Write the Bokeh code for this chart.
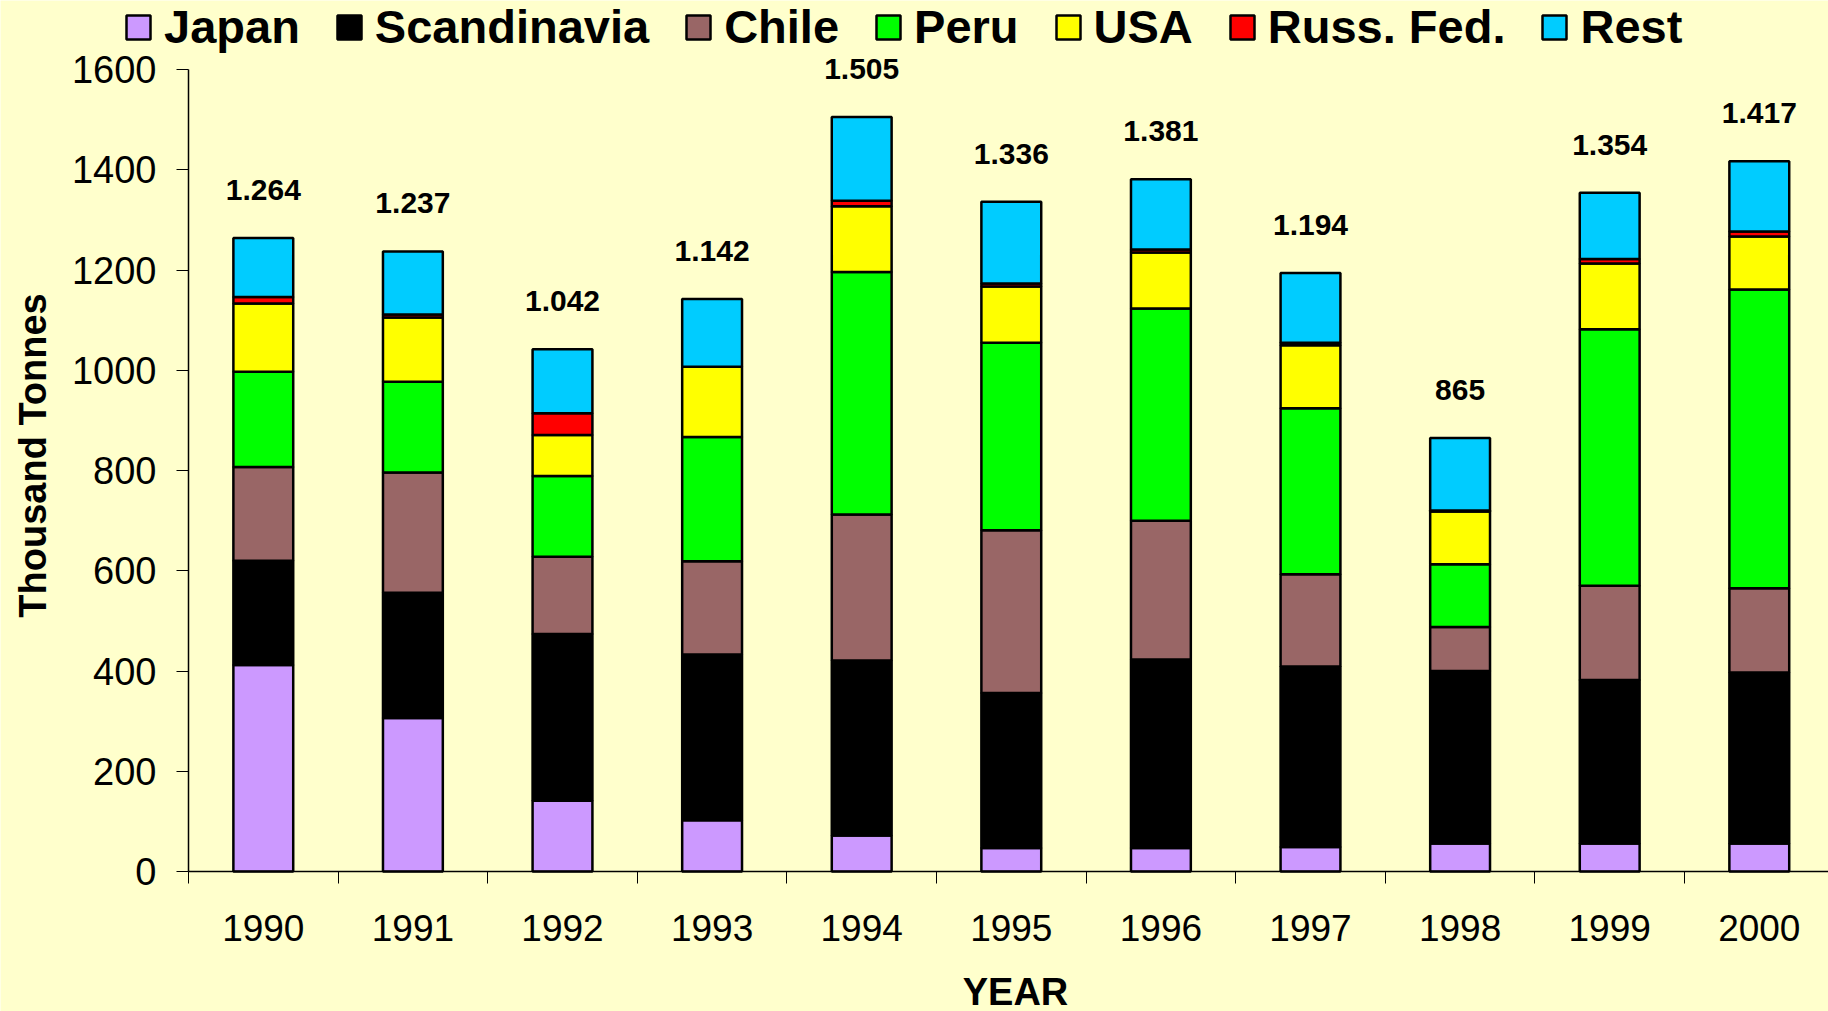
import math
from bokeh.plotting import figure
from bokeh.models import ColumnDataSource, Legend, LegendItem, FixedTicker, Range1d, Label
from bokeh.core.properties import value
from bokeh.embed import file_html
from bokeh.resources import INLINE

years = ["1990", "1991", "1992", "1993", "1994", "1995", "1996", "1997", "1998", "1999", "2000"]
japan = [412, 306, 141, 102, 72, 47, 47, 49, 56, 56, 56]
scandinavia = [208, 250, 333, 331, 349, 309, 376, 360, 344, 326, 341]
chile = [187, 240, 154, 186, 291, 325, 277, 184, 88, 188, 168]
peru = [190, 181, 161, 248, 484, 374, 423, 331, 125, 512, 596]
usa = [136, 128, 82, 140, 131, 112, 112, 126, 105, 131, 106]
russ = [13, 6, 43, 0, 11, 6, 6, 5, 2, 9, 10]
rest = [118, 126, 128, 135, 167, 163, 140, 139, 145, 132, 140]
total_labels = ["1.264", "1.237", "1.042", "1.142", "1.505", "1.336", "1.381", "1.194", "865", "1.354", "1.417"]

series = ["Japan", "Scandinavia", "Chile", "Peru", "USA", "Russ. Fed.", "Rest"]
colors = ["#CC99FF", "#000000", "#996666", "#00FF00", "#FFFF00", "#FF0000", "#00CCFF"]
keys = ["japan", "scand", "chile", "peru", "usa", "russ", "rest"]

idx = list(range(len(years)))
data = dict(x=idx, japan=japan, scand=scandinavia, chile=chile, peru=peru,
            usa=usa, russ=russ, rest=rest)
src = ColumnDataSource(data)
totals = [sum(v) for v in zip(japan, scandinavia, chile, peru, usa, russ, rest)]
lab_src = ColumnDataSource(dict(x=idx, y=totals, t=total_labels))

BG = "#FFFFCC"
FONT = "Liberation Sans"
W, H = 1828, 1011

# The frame covers the whole canvas; axes are placed with fixed_location / bounds
CAT_PX = 149.6             # pixels per category
AX_LEFT, Y0_PX, Y1600_PX = 188, 871, 69
PX_PER_UNIT = (Y0_PX - Y1600_PX) / 1600
x_start = -0.5 - AX_LEFT / CAT_PX
x_end = x_start + W / CAT_PX
y_start = -(H - Y0_PX) / PX_PER_UNIT
y_end = 1600 + Y1600_PX / PX_PER_UNIT


def px_x(px):
    return x_start + px / CAT_PX


def px_y(py):
    return 1600 + (Y1600_PX - py) / PX_PER_UNIT


p = figure(width=W, height=H,
           x_range=Range1d(x_start, x_end), y_range=Range1d(y_start, y_end),
           output_backend="svg", toolbar_location=None,
           min_border=0,
           background_fill_color=BG, border_fill_color=BG, outline_line_color=None)

renderers = p.vbar_stack(keys, x="x", width=0.4, source=src, fill_color=colors,
                         line_color="black", line_width=2.5)

p.text(x="x", y="y", text="t", source=lab_src, text_align="center",
       text_baseline="alphabetic", y_offset=-48,
       text_font=value(FONT), text_font_style="bold", text_font_size="30px",
       text_color="black")

legend = Legend(items=[LegendItem(label=s, renderers=[r]) for s, r in zip(series, renderers)],
                orientation="horizontal", location=(123, H - 54),
                glyph_width=30, glyph_height=30, label_standoff=11, spacing=34,
                padding=0, margin=0, background_fill_alpha=0, border_line_color=None,
                label_text_font=FONT, label_text_font_style="bold",
                label_text_font_size="47px", label_text_color="black")
p.add_layout(legend)

p.grid.visible = False

xa = p.xaxis[0]
xa.fixed_location = 0
xa.bounds = (-0.5, x_end)
xa.ticker = FixedTicker(ticks=idx, minor_ticks=[i - 0.5 for i in range(12)])
xa.major_label_overrides = {i: y for i, y in enumerate(years)}
xa.major_tick_line_color = None
xa.major_tick_in = 0
xa.major_tick_out = 0
xa.minor_tick_in = 0
xa.minor_tick_out = 12
xa.minor_tick_line_color = "black"
xa.axis_line_color = "black"
xa.axis_line_width = 1.5
xa.major_label_standoff = 31
xa.major_label_text_font = FONT
xa.major_label_text_font_size = "37px"
xa.major_label_text_color = "black"

ya = p.yaxis[0]
ya.fixed_location = -0.5
ya.bounds = (0, 1600)
ya.ticker = FixedTicker(ticks=list(range(0, 1601, 200)), minor_ticks=[])
ya.major_tick_in = 0
ya.major_tick_out = 12
ya.major_tick_line_color = "black"
ya.minor_tick_line_color = None
ya.axis_line_color = "black"
ya.axis_line_width = 1.5
ya.major_label_standoff = 20
ya.major_label_text_font = FONT
ya.major_label_text_font_size = "38px"
ya.major_label_text_color = "black"

# axis titles
p.add_layout(Label(x=px_x(1015), y=px_y(991), text="YEAR", text_align="center",
                   text_baseline="middle", text_font=FONT, text_font_style="bold",
                   text_font_size="38px", text_color="black"))
p.add_layout(Label(x=px_x(32), y=px_y(455), text="Thousand Tonnes", angle=math.pi / 2,
                   text_align="center", text_baseline="middle", text_font=FONT,
                   text_font_style="bold", text_font_size="38px", text_color="black"))

open("out.html", "w").write(file_html(p, INLINE))
